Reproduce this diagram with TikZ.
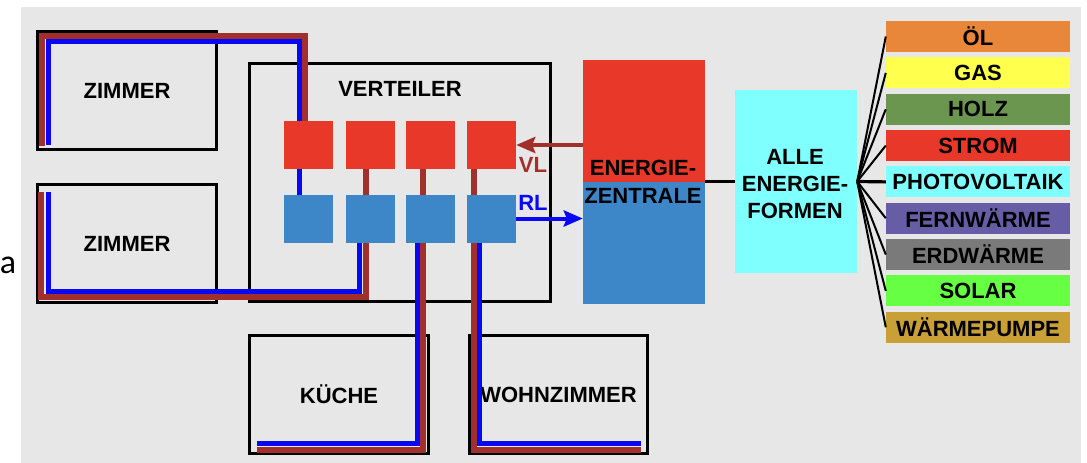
\documentclass[tikz,border=0pt]{standalone}
\usepackage{fontspec}
\setmainfont{Liberation Sans}
\newfontfamily\calibfont{Carlito}
\usetikzlibrary{arrows.meta,calc}
\definecolor{bgray}{HTML}{E7E7E7}
\definecolor{pbrown}{HTML}{A12F2B}
\definecolor{pblue}{HTML}{0808F2}
\definecolor{vred}{HTML}{E8382A}
\definecolor{vblue}{HTML}{3D87C9}
\definecolor{acyan}{HTML}{80FFFF}
\definecolor{eoel}{HTML}{E8873A}
\definecolor{egas}{HTML}{FFFF4D}
\definecolor{eholz}{HTML}{6B9650}
\definecolor{estrom}{HTML}{E8382A}
\definecolor{epv}{HTML}{80FFFF}
\definecolor{efern}{HTML}{675DA6}
\definecolor{eerd}{HTML}{7A7A7A}
\definecolor{esolar}{HTML}{66FF44}
\definecolor{ewp}{HTML}{C9A035}
\tikzset{
  lbl/.style={font=\bfseries\fontsize{22}{26}\selectfont, inner sep=0pt},
  room/.style={lbl, draw=black, line width=3pt, minimum height=118pt},
  vbox/.style={inner sep=0pt, minimum width=49pt, minimum height=48pt},
  redbox/.style={vbox, fill=vred},
  bluebox/.style={vbox, fill=vblue},
  ebox/.style={lbl, minimum width=184pt, minimum height=31pt},
  brownpipe/.style={draw=pbrown, line width=6pt, line join=miter},
  bluepipe/.style={draw=pblue, line width=5pt, line join=miter},
  fan/.style={draw=black, line width=2pt},
}
\begin{document}
\begin{tikzpicture}[x=1pt,y=-1pt]
\useasboundingbox (0,0) rectangle (1087,463);
\fill[white] (0,0) rectangle (1087,463);
\fill[bgray] (21,7) rectangle (1081,463);

\node[font=\calibfont\fontsize{34}{40}\selectfont, inner sep=0pt] (a) at (8,265.5) {a};

% rooms
\node[room, minimum width=179pt] (z1) at (127,90.5) {ZIMMER};
\node[room, minimum width=179pt] (z2) at (127,243.5) {ZIMMER};
\node[room, minimum width=179pt] (kue) at (339,394.5) {KÜCHE};
\node[room, minimum width=178pt] (wohn) at (558.5,394.5) {WOHNZIMMER};
\node[draw=black, line width=3pt, minimum width=301pt, minimum height=238pt, inner sep=0pt] (vt) at (400,182.5) {};
\node[lbl] (vtl) at (400,89) {VERTEILER};

% pipes (over the room borders, below the distributor boxes)
% Zimmer 1
\draw[brownpipe] (41.5,146) -- (41.5,36) -- (305,36) -- (305,130);
\draw[bluepipe] (48,145) -- (48,41.5) -- (299.7,41.5) -- (299.7,200);
% Zimmer 2
\draw[brownpipe] (41,192) -- (41,297) -- (365.5,297) -- (365.5,160);
\draw[bluepipe] (48,192) -- (48,291) -- (359,291) -- (359,235);
% Kueche
\draw[brownpipe] (257,450) -- (423,450) -- (423,160);
\draw[bluepipe] (257,443) -- (417.5,443) -- (417.5,235);
% Wohnzimmer
\draw[brownpipe] (641,450) -- (473.8,450) -- (473.8,160);
\draw[bluepipe] (641,443) -- (479.3,443) -- (479.3,235);

% distributor boxes
\foreach \i/\x in {1/308.5,2/370,3/430.5,4/491.5}{
  \node[redbox] (r\i) at (\x,145) {};
  \node[bluebox] (b\i) at (\x,218.5) {};
}

% Energiezentrale
\node[fill=vred, inner sep=0pt, minimum width=122pt, minimum height=122pt] (ezr) at (644,121) {};
\node[fill=vblue, inner sep=0pt, minimum width=122pt, minimum height=122pt] (ezb) at (644,243) {};
\node[lbl, align=center, font=\bfseries\fontsize{22}{28}\selectfont] (ezt) at (643,182) {ENERGIE-\\ZENTRALE};

% VL / RL arrows
\draw[pbrown, line width=4pt, -{Stealth[length=19pt,width=16pt,inset=3pt]}] (r4.east -| ezr.west) -- (r4.east);
\draw[pblue, line width=4pt, -{Stealth[length=19pt,width=16pt,inset=3pt]}] (b4.east) -- (b4.east -| ezb.west);
\node[lbl, text=pbrown] (vl) at (533,165) {VL};
\node[lbl, text=pblue] (rl) at (533,203) {RL};

% Alle Energieformen
\node[fill=acyan, inner sep=0pt, minimum width=122pt, minimum height=183pt] (alle) at (796,181.5) {};
\node[lbl, align=center, font=\bfseries\fontsize{22}{27}\selectfont] (allet) at (795,184) {ALLE\\ENERGIE-\\FORMEN};
\draw[black, line width=3.5pt] (alle.west -| ezr.east) -- (alle.west);

% energy forms
\foreach \n/\c/\t [count=\k from 0] in {
  e1/eoel/ÖL, e2/egas/GAS, e3/eholz/HOLZ, e4/estrom/STROM, e5/epv/PHOTOVOLTAIK,
  e6/efern/FERNWÄRME, e7/eerd/ERDWÄRME, e8/esolar/SOLAR, e9/ewp/WÄRMEPUMPE}{
  \node[ebox, fill=\c] (\n) at (978,36.5+36.35*\k) {\t};
}
\foreach \n in {e1,e2,e3,e4,e6,e7,e8,e9}{
  \draw[fan] (alle.east) -- (\n.west);
}
\draw[fan, line width=3.2pt] (alle.east) -- (e5.west);
\end{tikzpicture}
\end{document}
